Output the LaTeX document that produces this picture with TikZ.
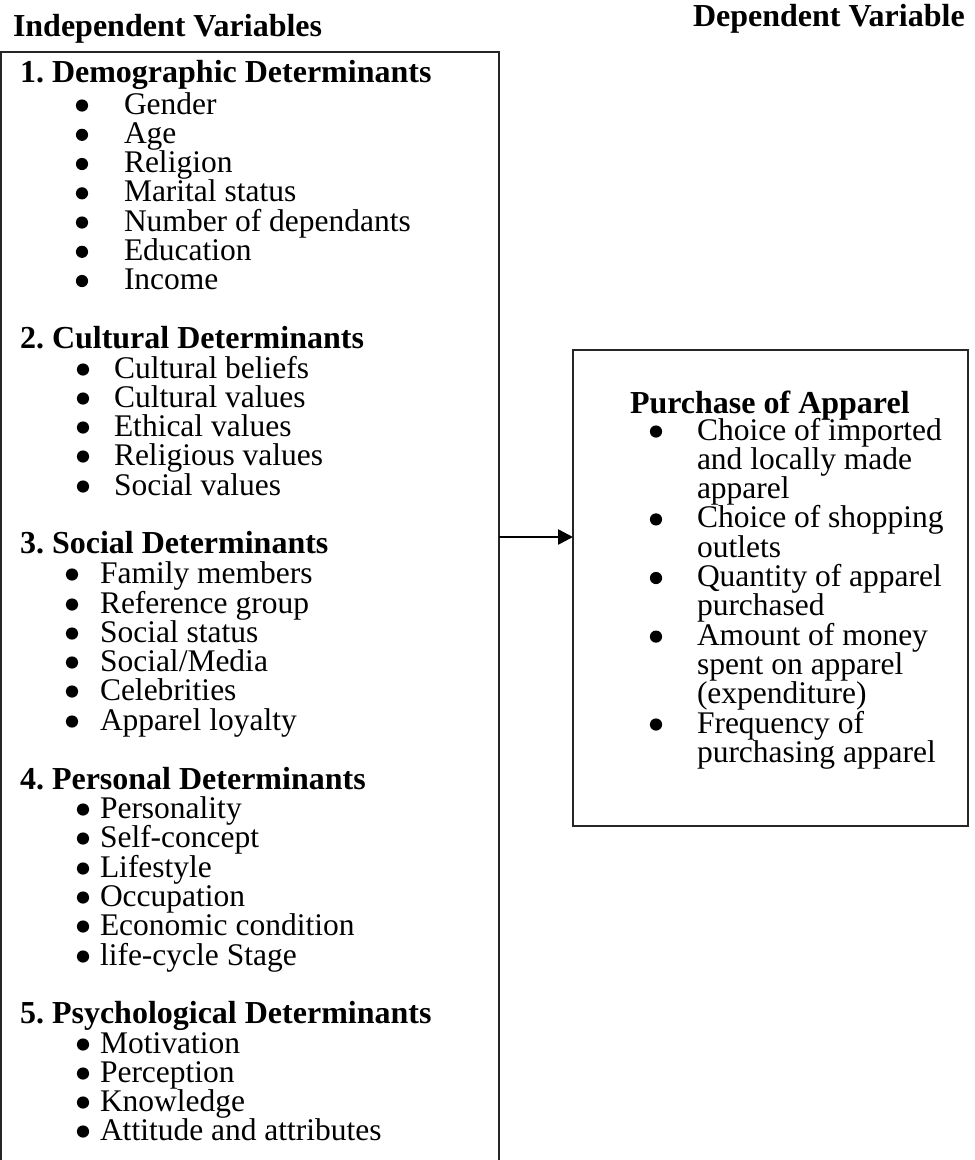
\documentclass[tikz,border=0pt]{standalone}
\usepackage{fontspec}
\setmainfont{Liberation Serif}
\usetikzlibrary{arrows.meta}
\frenchspacing
\newcommand\itm[5]{\fill (#2,#4-8.5) circle[radius=6.1pt]; \node[txt] (#1) at (#3,#4) {#5};}
\newcommand\cont[4]{\node[txt] (#1) at (#2,#3) {#4};}
\begin{document}
\begin{tikzpicture}[x=1pt,y=-1pt,
  txt/.style={anchor=base west, inner sep=0pt, outer sep=0pt, font=\fontsize{31.5}{29}\selectfont},
  head/.style={anchor=base west, inner sep=0pt, outer sep=0pt, font=\fontsize{32}{29}\selectfont\bfseries},
  frame/.style={draw=black!85, line width=1.5pt, outer sep=0pt, inner sep=0pt, anchor=north west},
  conn/.style={line width=2.6pt, -{Triangle[length=15pt,width=15pt]}}]
\useasboundingbox (0,0) rectangle (975,1160);
\clip (0,0) rectangle (975,1160);
\fill[white] (0,0) rectangle (975,1160);

% boxes
\node[frame, minimum width=498pt, minimum height=1200pt] (indep) at (1,52) {};
\node[frame, minimum width=395pt, minimum height=476pt] (dep) at (573,350) {};

% column titles
\node[head] (hI) at (13,36) {Independent Variables};
\node[head] (hD) at (693,26) {Dependent Variable};

% 1
\node[head] (s1) at (20,82) {1. Demographic Determinants};
\itm{a1}{82}{124}{114}{Gender}
\itm{a2}{82}{124}{143.3}{Age}
\itm{a3}{82}{124}{172.5}{Religion}
\itm{a4}{82}{124}{201.8}{Marital status}
\itm{a5}{82}{124}{231}{Number of dependants}
\itm{a6}{82}{124}{260.3}{Education}
\itm{a7}{82}{124}{289.5}{Income}

% 2
\node[head] (s2) at (20,348) {2. Cultural Determinants};
\itm{b1}{83}{114}{378}{Cultural beliefs}
\itm{b2}{83}{114}{407}{Cultural values}
\itm{b3}{83}{114}{436}{Ethical values}
\itm{b4}{83}{114}{465}{Religious values}
\itm{b5}{83}{114}{495}{Social values}

% 3
\node[head] (s3) at (20,553) {3. Social Determinants};
\itm{c1}{72}{100}{583}{Family members}
\itm{c2}{72}{100}{613}{Reference group}
\itm{c3}{72}{100}{642}{Social status}
\itm{c4}{72}{100}{671}{Social/Media}
\itm{c5}{72}{100}{700}{Celebrities}
\itm{c6}{72}{100}{730}{Apparel loyalty}

% 4
\node[head] (s4) at (20,789) {4. Personal Determinants};
\itm{d1}{83}{100}{818}{Personality}
\itm{d2}{83}{100}{847}{Self-concept}
\itm{d3}{83}{100}{877}{Lifestyle}
\itm{d4}{83}{100}{906}{Occupation}
\itm{d5}{83}{100}{935}{Economic condition}
\itm{d6}{83}{100}{965}{life-cycle Stage}

% 5
\node[head] (s5) at (20,1023) {5. Psychological Determinants};
\itm{e1}{83}{100}{1053}{Motivation}
\itm{e2}{83}{100}{1082}{Perception}
\itm{e3}{83}{100}{1111}{Knowledge}
\itm{e4}{83}{100}{1140}{Attitude and attributes}

% dependent
\node[head] (pa) at (630,413) {Purchase of Apparel};
\itm{p1}{656}{697}{440}{Choice of imported}
\cont{p1b}{697}{469.3}{and locally made}
\cont{p1c}{697}{498.6}{apparel}
\itm{p2}{656}{697}{527.9}{Choice of shopping}
\cont{p2b}{697}{557.2}{outlets}
\itm{p3}{656}{697}{586.5}{Quantity of apparel}
\cont{p3b}{697}{615.8}{purchased}
\itm{p4}{656}{697}{645.1}{Amount of money}
\cont{p4b}{697}{674.4}{spent on apparel}
\cont{p4c}{697}{703.7}{(expenditure)}
\itm{p5}{656}{697}{733}{Frequency of}
\cont{p5b}{697}{762.3}{purchasing apparel}

% connector
\coordinate (ay) at (0,537);
\draw[conn] (indep.east |- ay) -- (dep.west |- ay);
\end{tikzpicture}
\end{document}
